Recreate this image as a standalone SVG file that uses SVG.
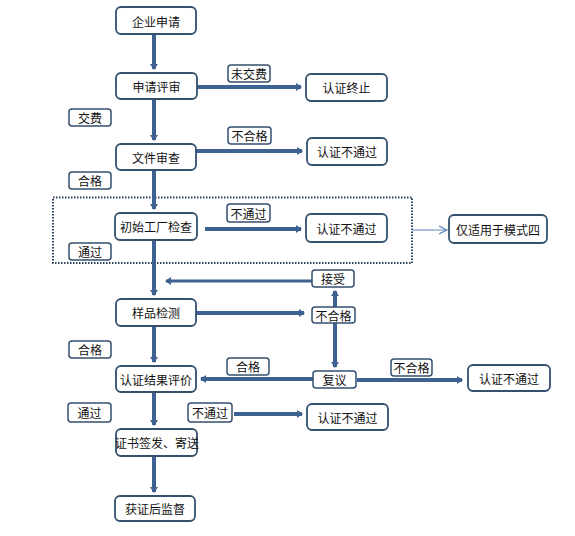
<svg xmlns="http://www.w3.org/2000/svg" width="575" height="536" viewBox="0 0 575 536">
<defs>
<style>
.box{fill:#fff;stroke:#34506e;stroke-width:1.8}
.lbl{fill:#fff;stroke:#34506e;stroke-width:1.5}
.t{font-family:"Noto Sans CJK SC","Noto Sans",sans-serif;font-size:12px;fill:#111;text-anchor:middle;dominant-baseline:central}
.ln{stroke:#3d6190;stroke-width:4;fill:none}
.ln3{stroke:#3d6190;stroke-width:3;fill:none}
</style>
<marker id="ah" markerWidth="8" markerHeight="8" refX="5" refY="4" orient="auto" markerUnits="userSpaceOnUse" viewBox="0 0 8 8">
<path d="M0,0 L6,4 L0,8 Z" fill="#3d6190"/>
</marker>
<marker id="ahl" markerWidth="10" markerHeight="10" refX="7" refY="5" orient="auto" markerUnits="userSpaceOnUse" viewBox="0 0 10 10">
<path d="M0,1 L8,5 L0,9" fill="none" stroke="#5b86b8" stroke-width="1.2"/>
</marker>
</defs>
<rect width="575" height="536" fill="#fff"/>
<rect x="53" y="197.5" width="359" height="65.5" fill="none" stroke="#2e4560" stroke-width="2" stroke-dasharray="1.5,1.5"/>
<g id="connectors">
<line class="ln" x1="154" y1="34" x2="154" y2="69" marker-end="url(#ah)"/>
<line class="ln" x1="154" y1="99" x2="154" y2="140" marker-end="url(#ah)"/>
<line class="ln" x1="154" y1="170" x2="154" y2="209" marker-end="url(#ah)"/>
<line class="ln" x1="154" y1="240" x2="154" y2="295" marker-end="url(#ah)"/>
<line class="ln" x1="154" y1="326" x2="154" y2="362" marker-end="url(#ah)"/>
<line class="ln" x1="154" y1="392" x2="154" y2="425" marker-end="url(#ah)"/>
<line class="ln" x1="154" y1="456" x2="154" y2="492" marker-end="url(#ah)"/>
<line class="ln" x1="197" y1="87" x2="301" y2="87" marker-end="url(#ah)"/>
<line class="ln" x1="196" y1="151" x2="302" y2="151" marker-end="url(#ah)"/>
<line class="ln" x1="205" y1="229" x2="301" y2="229" marker-end="url(#ah)"/>
<line x1="412" y1="230" x2="446" y2="230" stroke="#5b86b8" stroke-width="1.2" marker-end="url(#ahl)"/>
<line class="ln3" x1="312" y1="281" x2="166" y2="281" marker-end="url(#ah)"/>
<line class="ln" x1="196" y1="313" x2="304" y2="313" marker-end="url(#ah)"/>
<line class="ln" x1="335" y1="307" x2="335" y2="291" marker-end="url(#ah)"/>
<line class="ln" x1="335" y1="323" x2="335" y2="367" marker-end="url(#ah)"/>
<line class="ln" x1="313" y1="379" x2="201" y2="379" marker-end="url(#ah)"/>
<line class="ln" x1="357" y1="380" x2="462" y2="380" marker-end="url(#ah)"/>
<line class="ln" x1="234" y1="414" x2="302" y2="414" marker-end="url(#ah)"/>
</g>
<g id="n1"><rect class="box" x="116" y="7" width="80" height="27" rx="5"/><text class="t" x="156" y="21">企业申请</text></g>
<g id="n2"><rect class="box" x="116" y="73" width="81" height="26" rx="5"/><text class="t" x="156.5" y="86">申请评审</text></g>
<g id="n3"><rect class="box" x="306" y="74" width="81" height="27" rx="5"/><text class="t" x="346.5" y="87.5">认证终止</text></g>
<g id="n4"><rect class="box" x="116" y="144" width="80" height="26" rx="5"/><text class="t" x="156" y="157">文件审查</text></g>
<g id="n5"><rect class="box" x="307" y="138" width="80" height="27" rx="5"/><text class="t" x="347" y="151.5">认证不通过</text></g>
<g id="n6"><rect class="box" x="115" y="213" width="82" height="27" rx="5"/><text class="t" x="156" y="226.5">初始工厂检查</text></g>
<g id="n7"><rect class="box" x="306" y="214" width="81" height="28" rx="5"/><text class="t" x="346.5" y="228">认证不通过</text></g>
<g id="n8"><rect class="box" x="449" y="215" width="98" height="28" rx="5"/><text class="t" x="498" y="229">仅适用于模式四</text></g>
<g id="n9"><rect class="box" x="116" y="299" width="80" height="27" rx="5"/><text class="t" x="156" y="312.5">样品检测</text></g>
<g id="n10"><rect class="box" x="116" y="366" width="80" height="26" rx="5"/><text class="t" x="156" y="379">认证结果评价</text></g>
<g id="n11"><rect class="box" x="468" y="365" width="82" height="26" rx="5"/><text class="t" x="509" y="378">认证不通过</text></g>
<g id="n12"><rect class="box" x="307" y="404" width="81" height="26" rx="5"/><text class="t" x="347.5" y="417">认证不通过</text></g>
<g id="n13"><rect class="box" x="116" y="429" width="81" height="27" rx="5"/><text class="t" x="157" y="442.5">证书签发、寄送</text></g>
<g id="n14"><rect class="box" x="115" y="496" width="80" height="25" rx="5"/><text class="t" x="155" y="508.5">获证后监督</text></g>
<g id="l1"><rect class="lbl" x="228" y="65" width="42" height="17" rx="3"/><text class="t" x="249" y="73.5">未交费</text></g>
<g id="l2"><rect class="lbl" x="69" y="109" width="42" height="17" rx="3"/><text class="t" x="90" y="117.5">交费</text></g>
<g id="l3"><rect class="lbl" x="228" y="127" width="43" height="17" rx="3"/><text class="t" x="249.5" y="135.5">不合格</text></g>
<g id="l4"><rect class="lbl" x="69" y="172" width="42" height="17" rx="3"/><text class="t" x="90" y="180.5">合格</text></g>
<g id="l5"><rect class="lbl" x="227" y="204" width="43" height="18" rx="3"/><text class="t" x="248.5" y="213">不通过</text></g>
<g id="l6"><rect class="lbl" x="69" y="243" width="42" height="17" rx="3"/><text class="t" x="90" y="251.5">通过</text></g>
<g id="n15"><rect class="lbl" x="312" y="270" width="42" height="17" rx="3"/><text class="t" x="333" y="278.5">接受</text></g>
<g id="n16"><rect class="lbl" x="312" y="307" width="43" height="16" rx="3"/><text class="t" x="333.5" y="315">不合格</text></g>
<g id="l7"><rect class="lbl" x="69" y="341" width="42" height="17" rx="3"/><text class="t" x="90" y="349.5">合格</text></g>
<g id="l8"><rect class="lbl" x="227" y="358" width="42" height="17" rx="3"/><text class="t" x="248" y="366.5">合格</text></g>
<g id="n17"><rect class="lbl" x="313" y="371" width="43" height="17" rx="3"/><text class="t" x="334.5" y="379.5">复议</text></g>
<g id="l9"><rect class="lbl" x="391" y="359" width="41" height="17" rx="3"/><text class="t" x="411.5" y="367.5">不合格</text></g>
<g id="l10"><rect class="lbl" x="68" y="403" width="43" height="19" rx="3"/><text class="t" x="89.5" y="412.5">通过</text></g>
<g id="l11"><rect class="lbl" x="188" y="403" width="44" height="19" rx="3"/><text class="t" x="210" y="412.5">不通过</text></g>
</svg>
